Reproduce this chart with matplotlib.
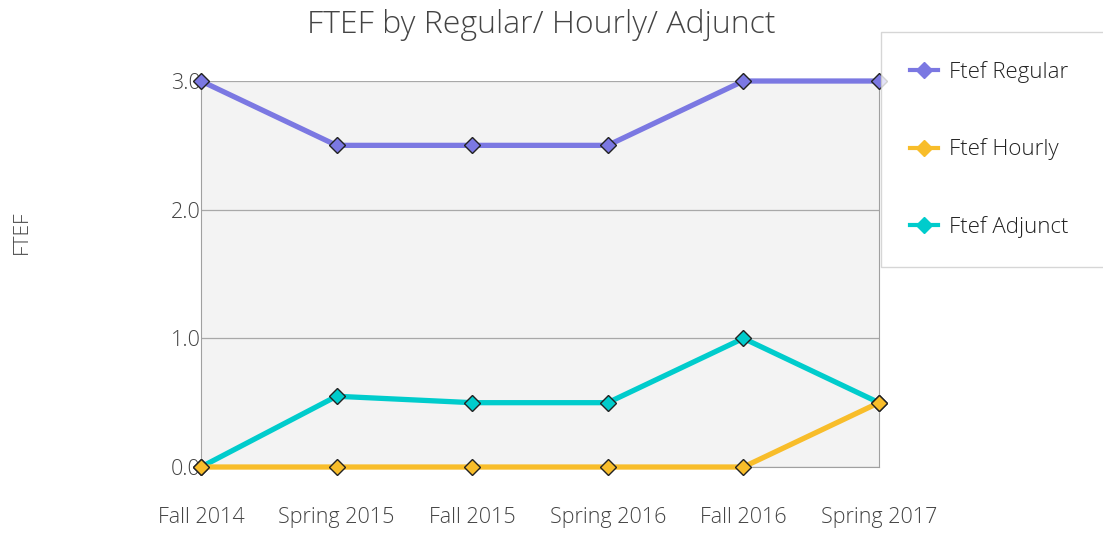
import matplotlib
matplotlib.use("Agg")
import matplotlib.pyplot as plt
from matplotlib.lines import Line2D

plt.rcParams["font.family"] = ["Open Sans", "DejaVu Sans"]
plt.rcParams["font.weight"] = "light"

terms = ["Fall 2014", "Spring 2015", "Fall 2015", "Spring 2016", "Fall 2016", "Spring 2017"]
ftef_regular = [3.0, 2.5, 2.5, 2.5, 3.0, 3.0]
ftef_hourly = [0.0, 0.0, 0.0, 0.0, 0.0, 0.5]
ftef_adjunct = [0.0, 0.55, 0.5, 0.5, 1.0, 0.5]

series = [
    ("Ftef Regular", ftef_regular, "#7b78e2"),
    ("Ftef Hourly", ftef_hourly, "#f8bd2a"),
    ("Ftef Adjunct", ftef_adjunct, "#00cccc"),
]

fig = plt.figure(figsize=(11.03, 5.33), dpi=100)
ax = fig.add_axes([0.1822, 0.1238, 0.6147, 0.7242])
ax.set_facecolor("#f3f3f3")

x = list(range(len(terms)))
# draw in reverse so regular sits on top, as in the original
for name, vals, col in reversed(series):
    ax.plot(x, vals, color=col, lw=3.8, marker="D", ms=8.5,
            mfc=col, mec="#222222", mew=1.0, clip_on=False, zorder=3)

ax.set_xlim(0, len(terms) - 1)
ax.set_ylim(0, 3)
ax.set_yticks([0, 1, 2, 3])
ax.set_yticklabels(["0.0", "1.0", "2.0", "3.0"])
ax.set_xticks(x)
ax.set_xticklabels(terms)
ax.tick_params(axis="both", length=0, labelsize=15.5, colors="#444444")
ax.tick_params(axis="x", pad=29)
ax.tick_params(axis="y", pad=0)
ax.grid(axis="y", color="#a8a8a8", lw=0.9)
ax.set_axisbelow(True)
for side in ["left", "right", "bottom"]:
    ax.spines[side].set_color("#a0a0a0")
ax.spines["top"].set_visible(False)

fig.text(0.02, 0.565, "FTEF", rotation=90, ha="center", va="center",
         fontsize=15, color="#444444")
fig.text(0.491, 0.954, "FTEF by Regular/ Hourly/ Adjunct", ha="center", va="center",
         fontsize=23, color="#444444")

handles = [Line2D([], [], color=col, lw=3, marker="D", ms=8, mfc=col, mec=col)
           for _, _, col in series]
leg = fig.legend(handles, [s[0] for s in series], loc="upper left",
                 bbox_to_anchor=(0.7987, 0.94, 0.25, 0.0), mode="expand",
                 frameon=True, fancybox=False,
                 fontsize=16, labelspacing=2.5, handlelength=1.25,
                 borderpad=1.3, handletextpad=0.5, borderaxespad=0)
leg.get_frame().set_edgecolor("#cccccc")
leg.get_frame().set_linewidth(1.0)
for t in leg.get_texts():
    t.set_color("#222222")

fig.savefig("out.png", dpi=100)
